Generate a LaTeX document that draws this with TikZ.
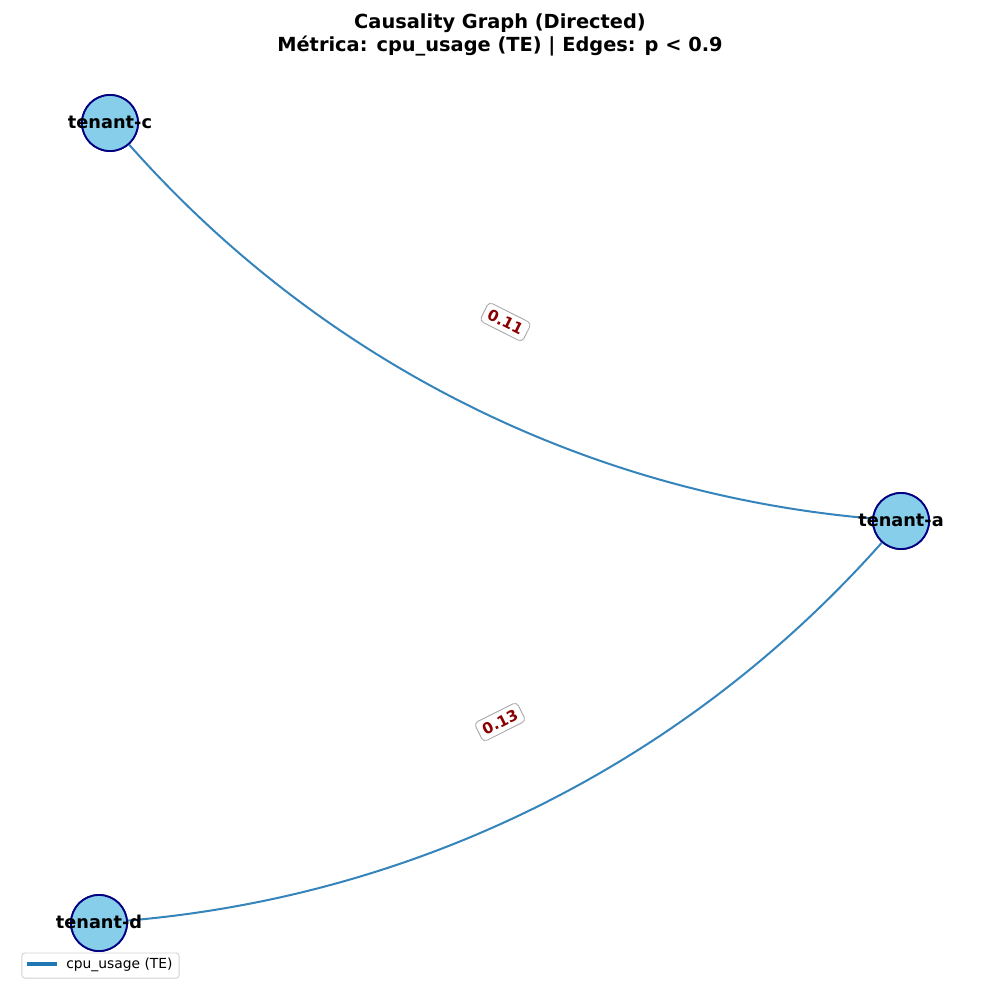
\documentclass[tikz,border=0pt]{standalone}
\usepackage{fontspec}
\setmainfont{DejaVu Sans}
\usetikzlibrary{calc}
\definecolor{tabblue}{HTML}{1F77B4}
\definecolor{skyb}{HTML}{87CEEB}
\definecolor{navyb}{HTML}{000080}
\definecolor{dred}{HTML}{8B0000}
\begin{document}
\begin{tikzpicture}[x=0.01in,y=-0.01in,
  tnode/.style={circle,draw=navyb,fill=skyb,line width=1.3pt,minimum size=0.56in,inner sep=0pt},
  tlabel/.style={font=\bfseries\fontsize{12.8}{15}\selectfont,text=black,inner sep=0pt},
  cedge/.style={draw=tabblue,draw opacity=0.9,line width=1.45pt},
  elabel/.style={font=\bfseries\fontsize{11}{13}\selectfont,text=dred,fill=white,draw=gray!70,line width=0.6pt,rounded corners=3pt,inner xsep=3.6pt,inner ysep=3.4pt,sloped}]
\useasboundingbox (0,0) rectangle (1000,1000);
\node[font=\bfseries\fontsize{14}{17}\selectfont,align=center] (title) at (500,35) {Causality Graph (Directed)\\Métrica: cpu\_usage (TE) | Edges: p < 0.9};
\node[tnode] (c) at (110,123) {};
\node[tnode] (a) at (901,521) {};
\node[tnode] (d) at (99,923) {};
\draw[cedge] (c) .. controls (320.6,361.1) and (584.3,493.8) .. (a);
\draw[cedge] (d) .. controls (419.9,895.9) and (687.3,761.9) .. (a);
\node[tnode] at (c.center) {};
\node[tnode] at (a.center) {};
\node[tnode] at (d.center) {};
\node[tlabel] (lc) at (110,122) {tenant-c};
\node[tlabel] (la) at (901,520) {tenant-a};
\node[tlabel] (ld) at (99,922) {tenant-d};
\path (c.center) -- node[elabel] (e1) {0.11} (a.center);
\path (d.center) -- node[elabel] (e2) {0.13} (a.center);
% legend
\node[draw=gray!35,line width=0.7pt,rounded corners=2pt,fill=white,minimum width=1.57in,minimum height=0.25in,inner sep=0pt] (leg) at (100.5,965.5) {};
\coordinate (l1) at (27,964);
\coordinate (l2) at (57,964);
\draw[tabblue,line width=2.6pt] (l1) -- (l2);
\node[anchor=west,font=\fontsize{10}{12}\selectfont,inner sep=0pt] (legt) at (66,964.5) {cpu\_usage (TE)};
\end{tikzpicture}
\end{document}
